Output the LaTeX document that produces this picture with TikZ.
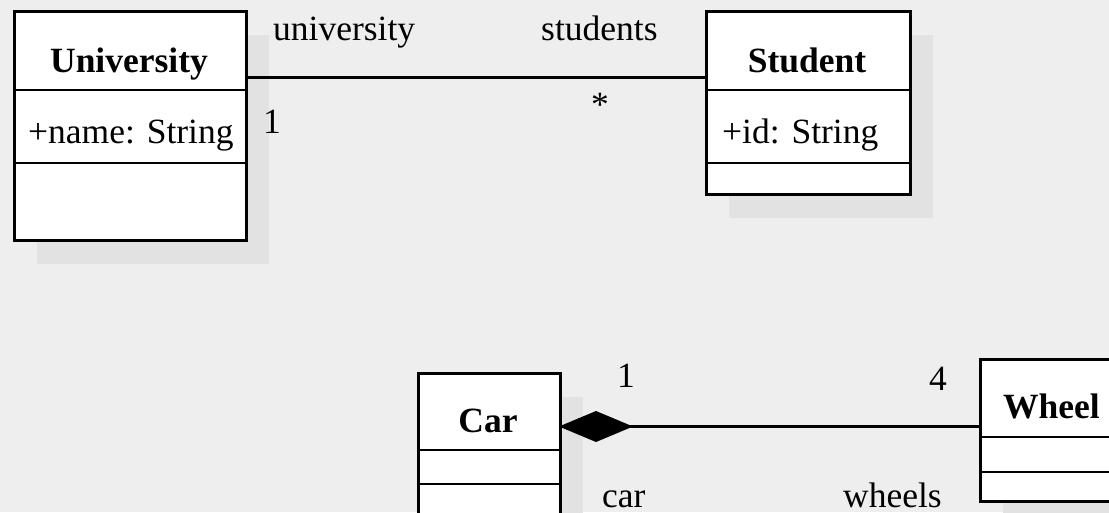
\documentclass[tikz,border=0pt]{standalone}
\usepackage{fontspec}
\setmainfont{Liberation Serif}
\usetikzlibrary{arrows.meta,shadows}
\definecolor{canvas}{RGB}{238,238,238}
\definecolor{shade}{RGB}{226,226,226}
\newcommand{\umlsize}{\fontsize{35.5}{40}\selectfont}
\tikzset{
  classbox/.style={draw=black, line width=3pt, fill=white, inner sep=0pt, anchor=north west,
    general shadow={fill=shade, shadow xshift=22pt, shadow yshift=-23pt}},
  divider/.style={line width=2.6pt},
  assoc/.style={line width=3pt},
  composition/.style={line width=3pt, shorten <=-3pt, {Diamond[length=74pt 0 0,width=31pt 0 0]}-},
  cname/.style={inner sep=0pt, anchor=base, font=\umlsize\bfseries},
  attr/.style={inner sep=0pt, anchor=base west, font=\umlsize},
  role/.style={inner sep=0pt, anchor=base west, font=\umlsize},
}
\begin{document}
\begin{tikzpicture}[x=1pt, y=-1pt, font=\umlsize]
  \path[use as bounding box, fill=canvas] (0,0) rectangle (1109,512);
  \clip (0,0) rectangle (1109,512);

  % University
  \node[classbox, minimum width=232pt, minimum height=229pt] (uni) at (13,10) {};
  \draw[divider] (13,90) -- (245,90);
  \draw[divider] (13,163) -- (245,163);
  \node[cname] (uniname) at (129,72) {University};
  \node[attr] (uniattr) at (28,143) {+name: String};

  % Student
  \node[classbox, minimum width=204pt, minimum height=183pt] (stu) at (705,10) {};
  \draw[divider] (705,90) -- (909,90);
  \draw[divider] (705,163) -- (909,163);
  \node[cname] (stuname) at (807,72) {Student};
  \node[attr] (stuattr) at (722,143) {+id: String};

  % Car
  \node[classbox, minimum width=142pt, minimum height=190pt] (car) at (417,372) {};
  \draw[divider] (417,450) -- (559,450);
  \draw[divider] (417,484) -- (559,484);
  \node[cname] (carname) at (488,432) {Car};

  % Wheel
  \node[classbox, minimum width=142pt, minimum height=142pt] (wheel) at (979,358) {};
  \draw[divider] (979,437) -- (1121,437);
  \draw[divider] (979,472) -- (1121,472);
  \node[cname, anchor=base west] (wheelname) at (1003,418) {Wheel};

  % University -- Student association
  \draw[assoc] ([yshift=-67pt]uni.north east) -- ([yshift=-67pt]stu.north west);
  \node[role] (lu) at (273,40) {university};
  \node[role] (ls) at (541,40) {students};
  \node[role] (m1) at (263,133) {1};
  \node[inner sep=0pt] (m2) at (600,105) {*};

  % Car -- Wheel composition
  \coordinate (carR) at ([yshift=-54.5pt]car.north east);
  \draw[composition] (carR) -- (carR -| wheel.west);
  \node[role] (m3) at (617,387) {1};
  \node[role] (m4) at (929,390) {4};
  \node[role] (lc) at (602,507) {car};
  \node[role] (lw) at (843,507) {wheels};
\end{tikzpicture}
\end{document}
